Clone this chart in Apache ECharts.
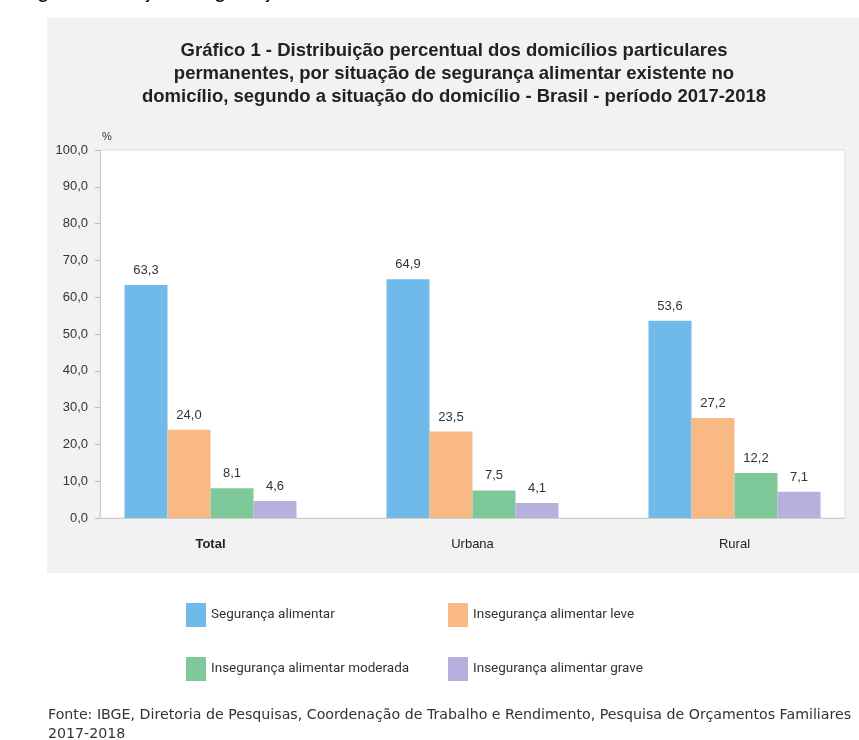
<!DOCTYPE html>
<html>
<head>
<meta charset="utf-8">
<script src="https://cdn.jsdelivr.net/npm/echarts@6/dist/echarts.min.js"></script>
<style>
  html, body { margin: 0; padding: 0; background: #fff; }
  #chart { width: 859px; height: 740px; }
</style>
</head>
<body>
<div id="chart"></div>
<script>
// categories and values
const categories = ['Total', 'Urbana', 'Rural'];
const seguranca = [63.3, 64.9, 53.6];
const insegLeve = [24.0, 23.5, 27.2];
const insegModerada = [8.1, 7.5, 12.2];
const insegGrave = [4.6, 4.1, 7.1];
const seriesNames = ['Segurança alimentar', 'Insegurança alimentar leve',
                     'Insegurança alimentar moderada', 'Insegurança alimentar grave'];
const colors = ['#6fbae8', '#f9b985', '#7fc89a', '#b6b1dc'];

const fmt = v => v.toFixed(1).replace('.', ',');

function barSeries(name, data, color) {
    return {
        name: name,
        type: 'bar',
        xAxisIndex: 1,
        yAxisIndex: 1,
        data: data,
        barWidth: 43,
        barGap: '0%',
        itemStyle: { color: color },
        label: {
            show: true,
            position: 'top',
            distance: 8,
            color: '#333',
            fontFamily: 'Liberation Sans',
            fontSize: 13,
            formatter: p => fmt(p.value)
        }
    };
}

function legendAt(name, left, top) {
    return {
        data: [name],
        left: left,
        top: top,
        padding: 0,
        itemWidth: 20,
        itemHeight: 24,
        itemGap: 6,
        icon: 'rect',
        selectedMode: false,
        textStyle: { color: '#333', fontFamily: 'Roboto', fontSize: 13.5 }
    };
}

const chart = echarts.init(document.getElementById('chart'));
chart.setOption({
    animation: false,
    color: colors,
    title: {
        text: 'Gráfico 1 - Distribuição percentual dos domicílios particulares\n' +
              'permanentes, por situação de segurança alimentar existente no\n' +
              'domicílio, segundo a situação do domicílio - Brasil - período 2017-2018',
        left: 454,
        top: 39,
        padding: 0,
        textAlign: 'center',
        textStyle: {
            fontFamily: 'Liberation Sans',
            fontWeight: 'bold',
            fontSize: 18.5,
            lineHeight: 23,
            color: '#222'
        }
    },
    legend: [
        legendAt(seriesNames[0], 186, 603),
        legendAt(seriesNames[1], 448, 603),
        legendAt(seriesNames[2], 186, 657),
        legendAt(seriesNames[3], 448, 657)
    ],
    graphic: [
        { type: 'rect', z: -10, shape: { x: 47, y: 18, width: 812, height: 555 },
          style: { fill: '#f2f2f2' } },
        { type: 'text', left: 25, top: -15,
          style: { text: 'Figura 1 - Situação de segurança alimentar', fill: '#111',
                   font: 'bold 16px "Open Sans"' } },
        { type: 'text', left: 48, top: 708,
          style: { text: 'Fonte: IBGE, Diretoria de Pesquisas, Coordenação de Trabalho e Rendimento, Pesquisa de Orçamentos Familiares',
                   fill: '#333', font: '14.2px "DejaVu Sans"' } },
        { type: 'text', left: 48, top: 727,
          style: { text: '2017-2018', fill: '#333', font: '14.2px "DejaVu Sans"' } }
    ],
    grid: [
        { left: 100, top: 150, width: 745, height: 368, show: true, outerBoundsMode: 'none',
          backgroundColor: '#fff', borderColor: '#dcdcdc', borderWidth: 1 },
        { left: 79.5, top: 150, width: 786, height: 368, outerBoundsMode: 'none' }
    ],
    xAxis: [
        { type: 'category', gridIndex: 0, data: categories,
          axisLine: { lineStyle: { color: '#cfcfcf' } },
          axisTick: { show: false }, axisLabel: { show: false } },
        { type: 'category', gridIndex: 1,
          data: categories.map((c, i) => i === 0 ? { value: c, textStyle: { fontWeight: 'bold' } } : c),
          axisLine: { show: false }, axisTick: { show: false },
          axisLabel: { margin: 20, color: '#222', fontFamily: 'Liberation Sans', fontSize: 13 } }
    ],
    yAxis: [
        { type: 'value', gridIndex: 0, min: 0, max: 100, interval: 10,
          name: '%', nameLocation: 'end', nameGap: 8,
          nameTextStyle: { align: 'left', color: '#333', fontFamily: 'Liberation Sans', fontSize: 11, padding: [0, 0, 0, 2] },
          axisLine: { show: true, lineStyle: { color: '#cfcfcf' } },
          axisTick: { show: true, length: 5, lineStyle: { color: '#bbb' } },
          splitLine: { show: false },
          axisLabel: { margin: 12, color: '#333', fontFamily: 'Liberation Sans', fontSize: 13, formatter: fmt } },
        { type: 'value', gridIndex: 1, min: 0, max: 100, show: false, splitLine: { show: false } }
    ],
    series: [
        barSeries(seriesNames[0], seguranca, colors[0]),
        barSeries(seriesNames[1], insegLeve, colors[1]),
        barSeries(seriesNames[2], insegModerada, colors[2]),
        barSeries(seriesNames[3], insegGrave, colors[3])
    ]
});
</script>
</body>
</html>
